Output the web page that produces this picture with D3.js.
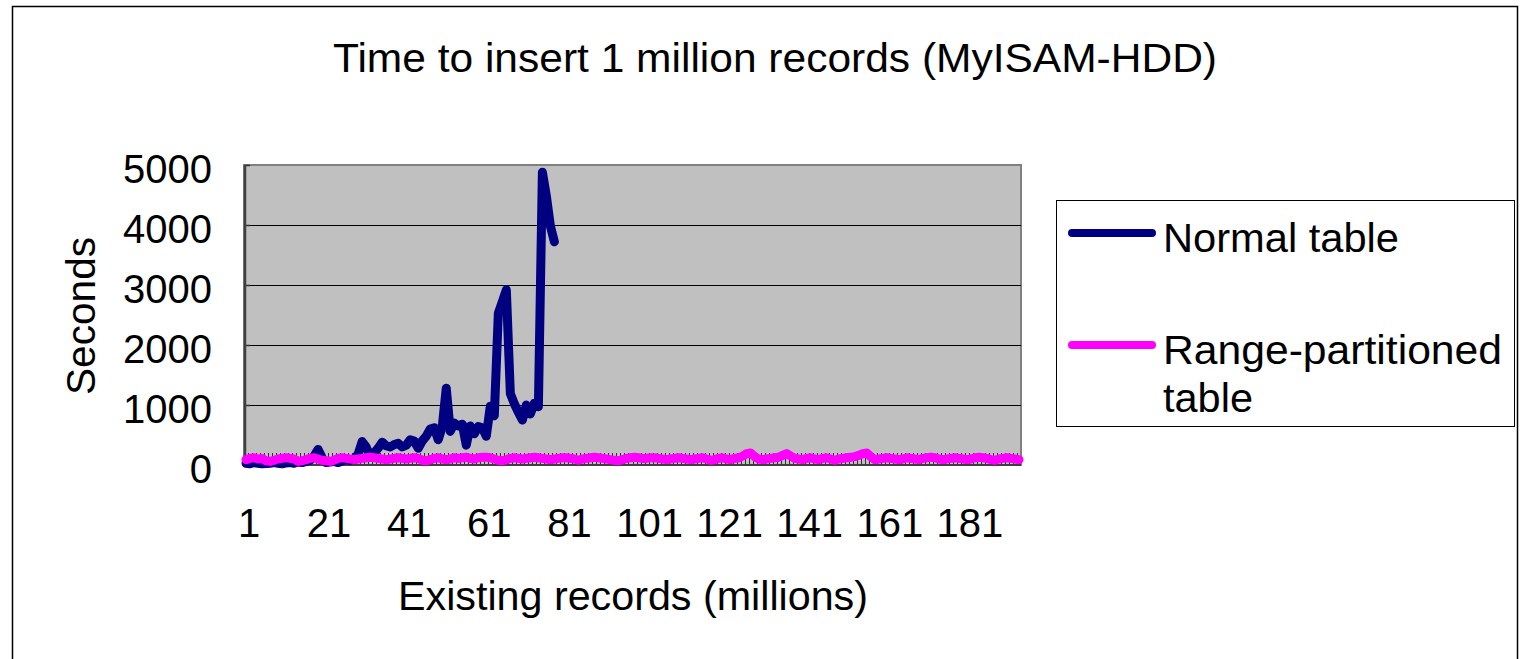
<!DOCTYPE html>
<html>
<head>
<meta charset="utf-8">
<script src="https://cdnjs.cloudflare.com/ajax/libs/d3/7.8.5/d3.min.js"></script>
<style>
  body { margin: 0; background: #fff; }
  svg { display: block; }
  text { font-family: "Liberation Sans", Arial, sans-serif; fill: #000; }
</style>
</head>
<body>
<div id="chart"></div>
<script>
// values
var titleText = "Time to insert 1 million records (MyISAM-HDD)";
var xTitle = "Existing records (millions)";
var yTitle = "Seconds";
var yTicks = [0, 1000, 2000, 3000, 4000, 5000];
var xLabels = [1, 21, 41, 61, 81, 101, 121, 141, 161, 181];
var categoryCount = 194;

var normalTable = [
    30, 20, 40, 30, 20, 25, 30, 40, 30, 20,
    35, 40, 30, 50, 40, 60, 80, 150, 260, 120,
    40, 50, 60, 40, 70, 90, 80, 100, 180, 390,
    300, 150, 200, 280, 380, 320, 300, 340, 360, 300,
    330, 420, 400, 280, 400, 480, 600, 620, 420, 640,
    1280, 560, 700, 650, 680, 330, 650, 520, 640, 620,
    480, 980, 820, 2530, 2720, 2920, 1190, 1020, 880, 750,
    1000, 850, 1030, 970, 4880, 4480, 3980, 3720
];

var rangeTable = [
    90, 110, 120, 100, 110, 70, 60, 80, 100, 110,
    120, 110, 100, 60, 70, 90, 110, 120, 100, 80,
    70, 60, 80, 110, 120, 110, 100, 90, 100, 110,
    120, 130, 120, 110, 100, 90, 100, 110, 120, 110,
    100, 110, 120, 110, 80, 70, 90, 110, 120, 100,
    90, 100, 120, 110, 120, 130, 110, 100, 120, 130,
    130, 120, 100, 80, 70, 90, 110, 120, 110, 100,
    110, 120, 130, 120, 110, 100, 90, 100, 110, 120,
    120, 110, 100, 80, 100, 110, 120, 130, 120, 110,
    100, 90, 80, 70, 90, 110, 120, 130, 120, 110,
    110, 120, 120, 110, 100, 90, 100, 110, 120, 110,
    100, 90, 100, 110, 120, 100, 80, 90, 110, 120,
    100, 90, 110, 120, 150, 190, 200, 140, 100, 90,
    100, 110, 120, 130, 160, 190, 150, 110, 100, 90,
    110, 120, 100, 90, 110, 120, 100, 80, 100, 110,
    120, 130, 140, 160, 190, 200, 140, 90, 100, 110,
    120, 110, 100, 90, 100, 120, 110, 100, 90, 110,
    120, 130, 120, 100, 90, 100, 110, 120, 110, 100,
    90, 100, 120, 130, 120, 110, 90, 80, 100, 110,
    120, 110, 100, 90
];

var seriesNames = ["Normal table", "Range-partitioned table"];
var seriesColors = ["#000080", "#ff00ff"];

var W = 1523, H = 659;
var plot = { left: 244, top: 165, right: 1021, bottom: 465 };

var svg = d3.select("#chart").append("svg")
    .attr("width", W)
    .attr("height", H);

// outer chart frame
svg.append("rect")
    .attr("x", 12.5).attr("y", 6.5)
    .attr("width", 1505).attr("height", 700)
    .attr("fill", "#fff")
    .attr("stroke", "#000")
    .attr("stroke-width", 1.5);

svg.append("text")
    .attr("x", 775).attr("y", 72)
    .attr("text-anchor", "middle")
    .attr("font-size", "40px")
    .attr("textLength", 884)
    .attr("lengthAdjust", "spacingAndGlyphs")
    .text(titleText);

var cats = d3.range(1, categoryCount + 1);
var x = d3.scaleBand().domain(cats).range([plot.left, plot.right]);
var y = d3.scaleLinear().domain([0, 5000]).range([plot.bottom, plot.top]);
var xc = function (i) { return x(i) + x.bandwidth() / 2; };

// plot area
svg.append("rect")
    .attr("x", plot.left).attr("y", plot.top)
    .attr("width", plot.right - plot.left).attr("height", plot.bottom - plot.top)
    .attr("fill", "#c0c0c0")
    .attr("stroke", "#808080")
    .attr("stroke-width", 2);

// gridlines
svg.append("g").selectAll("line")
    .data(yTicks.filter(function (d) { return d > 0 && d < 5000; }))
    .enter().append("line")
    .attr("x1", plot.left).attr("x2", plot.right)
    .attr("y1", function (d) { return Math.round(y(d)) + 0.5; })
    .attr("y2", function (d) { return Math.round(y(d)) + 0.5; })
    .attr("stroke", "#000")
    .attr("stroke-width", 1);

// category tick marks (one per category boundary)
svg.append("g").selectAll("line")
    .data(cats)
    .enter().append("line")
    .attr("x1", function (d) { return Math.round(x(d)) + 0.5; })
    .attr("x2", function (d) { return Math.round(x(d)) + 0.5; })
    .attr("y1", plot.bottom - 12).attr("y2", plot.bottom)
    .attr("stroke", "#303030")
    .attr("stroke-width", 1);

// value axis ticks
svg.append("g").selectAll("line")
    .data(yTicks)
    .enter().append("line")
    .attr("x1", plot.left).attr("x2", plot.left + 6)
    .attr("y1", function (d) { return Math.round(y(d)) + 0.5; })
    .attr("y2", function (d) { return Math.round(y(d)) + 0.5; })
    .attr("stroke", "#303030")
    .attr("stroke-width", 1.5);

// axis lines
svg.append("line")
    .attr("x1", plot.left + 1).attr("x2", plot.left + 1)
    .attr("y1", plot.top).attr("y2", plot.bottom)
    .attr("stroke", "#404040").attr("stroke-width", 2.5);
svg.append("line")
    .attr("x1", plot.left).attr("x2", plot.right)
    .attr("y1", plot.bottom).attr("y2", plot.bottom)
    .attr("stroke", "#404040").attr("stroke-width", 2);

// series
var line = d3.line()
    .x(function (d, i) { return xc(i + 1); })
    .y(function (d) { return y(d); });

[normalTable, rangeTable].forEach(function (data, k) {
    svg.append("path")
        .datum(data)
        .attr("d", line)
        .attr("fill", "none")
        .attr("stroke", seriesColors[k])
        .attr("stroke-width", 9)
        .attr("stroke-linejoin", "round")
        .attr("stroke-linecap", "round");
});

// y axis labels
var yAxis = d3.axisLeft(y).tickValues(yTicks).tickFormat(d3.format("d")).tickSize(0).tickPadding(0);
var yg = svg.append("g").attr("transform", "translate(212,5)").call(yAxis);
yg.select(".domain").remove();
yg.selectAll("text").attr("font-size", "40px").attr("font-family", "Liberation Sans, Arial, sans-serif");

// x axis labels
var xAxis = d3.axisBottom(x).tickValues(xLabels).tickSize(0).tickPadding(0);
var xg = svg.append("g").attr("transform", "translate(3,509)").call(xAxis);
xg.select(".domain").remove();
xg.selectAll("text").attr("font-size", "40px").attr("font-family", "Liberation Sans, Arial, sans-serif");

svg.append("text")
    .attr("x", 633).attr("y", 610)
    .attr("text-anchor", "middle")
    .attr("font-size", "40px")
    .attr("textLength", 470)
    .attr("lengthAdjust", "spacingAndGlyphs")
    .text(xTitle);

svg.append("text")
    .attr("transform", "translate(95,316) rotate(-90)")
    .attr("text-anchor", "middle")
    .attr("font-size", "40px")
    .attr("textLength", 158)
    .attr("lengthAdjust", "spacingAndGlyphs")
    .text(yTitle);

// legend
var lg = svg.append("g");
lg.append("rect")
    .attr("x", 1056.5).attr("y", 200.5)
    .attr("width", 458).attr("height", 226)
    .attr("fill", "#fff")
    .attr("stroke", "#000")
    .attr("stroke-width", 1);

var legendRows = [
    { lines: ["Normal table"], widths: [236], ly: 233 },
    { lines: ["Range-partitioned", "table"], widths: [339, 90], ly: 345 }
];
legendRows.forEach(function (r, k) {
    lg.append("line")
        .attr("x1", 1072).attr("x2", 1152)
        .attr("y1", r.ly).attr("y2", r.ly)
        .attr("stroke", seriesColors[k])
        .attr("stroke-width", 8)
        .attr("stroke-linecap", "round");
    r.lines.forEach(function (t, j) {
        lg.append("text")
            .attr("x", 1163).attr("y", r.ly + 19 + j * 48)
            .attr("font-size", "40px")
            .attr("textLength", r.widths[j])
            .attr("lengthAdjust", "spacingAndGlyphs")
            .text(t);
    });
});
</script>
</body>
</html>
